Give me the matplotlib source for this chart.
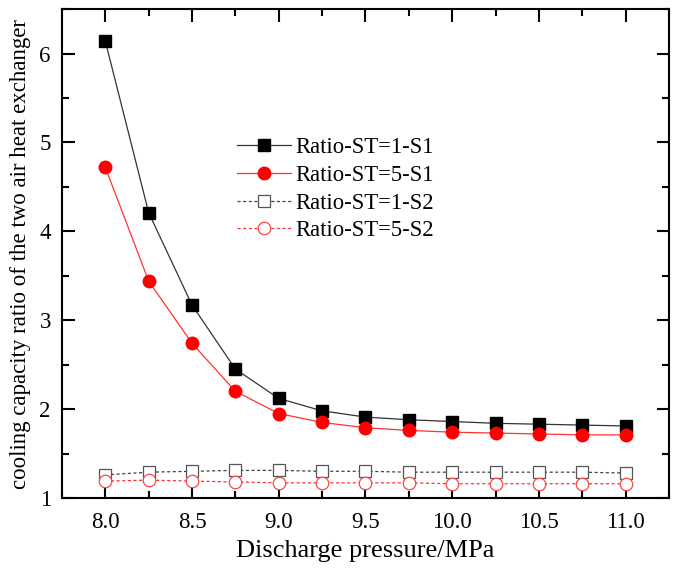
import matplotlib
matplotlib.use('Agg')
import matplotlib.pyplot as plt
from matplotlib.ticker import MultipleLocator, FormatStrFormatter

plt.rcParams['font.family'] = ['Liberation Serif', 'DejaVu Serif']

pressure = [8.0, 8.25, 8.5, 8.75, 9.0, 9.25, 9.5, 9.75, 10.0, 10.25, 10.5, 10.75, 11.0]
st1_s1 = [6.14, 4.21, 3.17, 2.45, 2.12, 1.98, 1.91, 1.88, 1.86, 1.84, 1.83, 1.82, 1.81]
st5_s1 = [4.72, 3.44, 2.74, 2.20, 1.95, 1.85, 1.79, 1.76, 1.74, 1.73, 1.72, 1.71, 1.71]
st1_s2 = [1.26, 1.29, 1.30, 1.31, 1.31, 1.30, 1.30, 1.29, 1.29, 1.29, 1.29, 1.29, 1.28]
st5_s2 = [1.19, 1.20, 1.19, 1.18, 1.17, 1.17, 1.17, 1.17, 1.16, 1.16, 1.16, 1.16, 1.16]

fig = plt.figure(figsize=(6.78, 5.75), dpi=100)
ax = fig.add_axes([0.0914, 0.134, 0.8953, 0.850])

ax.plot(pressure, st1_s1, color='#333333', lw=0.9, marker='s', ms=8,
        mfc='black', mec='black', label='Ratio-ST=1-S1')
ax.plot(pressure, st5_s1, color='#ff3333', lw=0.9, marker='o', ms=9,
        mfc='red', mec='red', label='Ratio-ST=5-S1')
ax.plot(pressure, st1_s2, color='#444444', lw=0.9, ls=(0, (2.5, 2)), marker='s', ms=8,
        mfc='white', mec='#555555', mew=0.9, label='Ratio-ST=1-S2')
ax.plot(pressure, st5_s2, color='#ff3333', lw=0.9, ls=(0, (2.5, 2)), marker='o', ms=9,
        mfc='white', mec='#ff4444', mew=0.9, label='Ratio-ST=5-S2')

ax.set_xlim(7.75, 11.25)
ax.set_ylim(1, 6.5)
ax.xaxis.set_major_locator(MultipleLocator(0.5))
ax.xaxis.set_minor_locator(MultipleLocator(0.25))
ax.yaxis.set_major_locator(MultipleLocator(1))
ax.yaxis.set_minor_locator(MultipleLocator(0.5))
ax.xaxis.set_major_formatter(FormatStrFormatter('%.1f'))
ax.tick_params(which='both', direction='in', top=True, right=True, width=1.5, labelsize=16.5)
ax.tick_params(which='major', length=9)
ax.tick_params(which='minor', length=5)
ax.tick_params(axis='y', pad=8)
ax.tick_params(axis='x', pad=10)
for s in ax.spines.values():
    s.set_linewidth(1.5)

ax.set_xlabel('Discharge pressure/MPa', fontsize=19, labelpad=5)
ax.set_ylabel('cooling capacity ratio of the two air heat exchanger', fontsize=16.5, labelpad=6)

ax.legend(loc='upper left', bbox_to_anchor=(0.274, 0.757), frameon=False, fontsize=16.3,
          handlelength=2.35, labelspacing=0.3, handletextpad=0.2, borderaxespad=0)

fig.savefig('out.png', dpi=100)
